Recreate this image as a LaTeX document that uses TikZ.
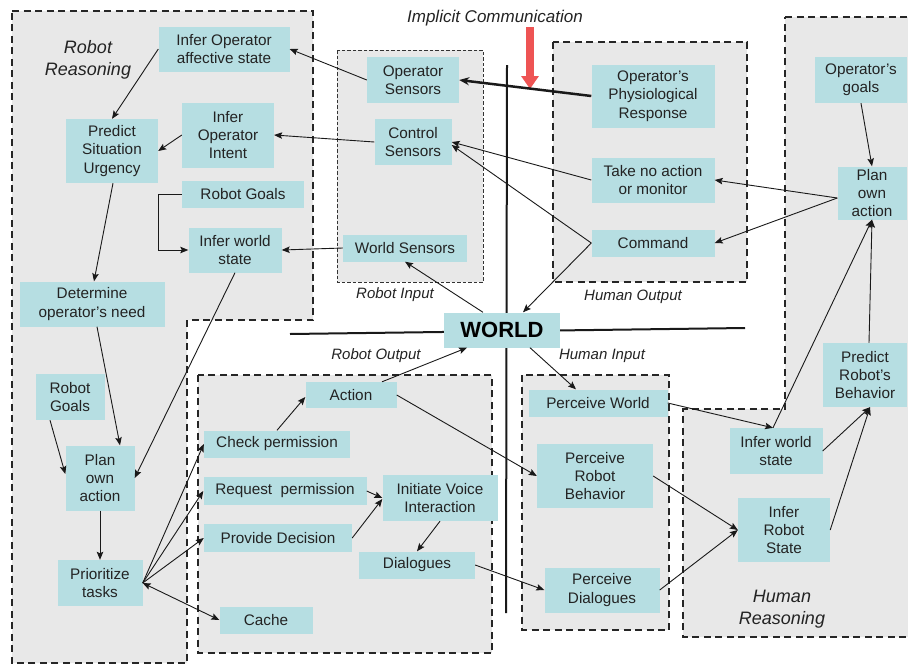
\documentclass[tikz,border=0pt]{standalone}
\usepackage{fontspec}
\setmainfont{Liberation Sans}
\usetikzlibrary{arrows.meta}
\definecolor{nodefill}{RGB}{182,222,226}
\definecolor{regfill}{RGB}{232,232,232}
\definecolor{txt}{RGB}{35,35,35}
\definecolor{redarr}{RGB}{238,84,84}
\begin{document}
\begin{tikzpicture}[x=1pt,y=-1pt,
 box/.style={fill=nodefill, text=txt, align=center, inner sep=0pt, font=\fontsize{15.3}{18.3}\selectfont},
 region/.style={fill=regfill, draw=black!85, line width=1.6pt, dash pattern=on 7pt off 4.5pt},
 fineregion/.style={fill=regfill, draw=black!80, line width=0.9pt, dash pattern=on 3.5pt off 2pt},
 arr/.style={draw=black!90, line width=0.9pt, -{Stealth[length=8pt,width=6.5pt,inset=1.5pt]}},
 dblarr/.style={draw=black!90, line width=0.9pt, {Stealth[length=8pt,width=6.5pt,inset=1.5pt]}-{Stealth[length=8pt,width=6.5pt,inset=1.5pt]}},
 lab/.style={text=txt, font=\fontsize{15}{18}\selectfont\itshape, inner sep=0pt},
 biglab/.style={text=txt, font=\fontsize{18}{21.5}\selectfont\itshape, align=center, inner sep=0pt},
]
\useasboundingbox (0,0) rectangle (908,667);
% regions
\path[region] (12,11) -- (313,11) -- (313,320) -- (187,320) -- (187,663) -- (12,663) -- cycle;
\path[region] (785,17) -- (915,17) -- (915,637) -- (683,637) -- (683,409) -- (785,409) -- cycle;
\path[fineregion] (337,50) rectangle (483,282);
\path[region] (553,42) rectangle (747,282);
\path[region] (198,375) rectangle (492,653);
\path[region] (522,375) rectangle (669,630);
% axes
\coordinate (vtop) at (507,65);
\coordinate (vbot) at (506,613);
\coordinate (hl) at (290,334);
\coordinate (hr) at (745,328);
\draw[line width=2pt, black!90] (vtop) -- (vbot);
\draw[line width=2pt, black!90] (hl) -- (hr);
% labels
\node[biglab] (rrlab) at (88,60) {Robot\\Reasoning};
\node[biglab] (hrlab) at (782,609) {Human\\Reasoning};
\node[lab] (rilab) at (395,295) {Robot Input};
\node[lab] (holab) at (633,297) {Human Output};
\node[lab] (rolab) at (376,356) {Robot Output};
\node[lab] (hilab) at (602,356) {Human Input};
\node[lab, font=\fontsize{17}{20}\selectfont\itshape] (iclab) at (495,18) {Implicit Communication};
% nodes
\node[box, font=\fontsize{22}{26}\selectfont\bfseries, text=black, minimum width=116, minimum height=35] (world) at (502,330) {WORLD};
\node[box, minimum width=131, minimum height=45] (affect) at (224,49) {Infer Operator\\affective state};
\node[box, minimum width=92, minimum height=64] (urgency) at (112,151) {Predict\\Situation\\Urgency};
\node[box, minimum width=92, minimum height=65] (intent) at (228,135) {Infer\\Operator\\Intent};
\node[box, minimum width=122, minimum height=27] (rgoals) at (243,194) {Robot Goals};
\node[box, minimum width=93, minimum height=45] (inferwL) at (235,250) {Infer world\\state};
\node[box, minimum width=145, minimum height=45] (determine) at (92,304) {Determine\\operator's need};
\node[box, minimum width=69, minimum height=46] (rgoalsL) at (70,397) {Robot\\Goals};
\node[box, minimum width=69, minimum height=65] (planL) at (100,478) {Plan\\own\\action};
\node[box, minimum width=85, minimum height=46] (prio) at (100,583) {Prioritize\\tasks};
\node[box, minimum width=146, minimum height=27] (check) at (277,444) {Check permission};
\node[box, minimum width=163, minimum height=28] (request) at (285,491) {Request\ \ permission};
\node[box, minimum width=148, minimum height=28] (provide) at (278,538) {Provide Decision};
\node[box, minimum width=93, minimum height=27] (cache) at (266,620) {Cache};
\node[box, minimum width=91, minimum height=26] (action) at (351,395) {Action};
\node[box, minimum width=115, minimum height=46] (initiate) at (440,498) {Initiate Voice\\Interaction};
\node[box, minimum width=116, minimum height=27] (dialogues) at (417,565) {Dialogues};
\node[box, minimum width=139, minimum height=27] (pworld) at (598,403) {Perceive World};
\node[box, minimum width=116, minimum height=64] (pbehav) at (595,476) {Perceive\\Robot\\Behavior};
\node[box, minimum width=115, minimum height=45] (pdial) at (602,590) {Perceive\\Dialogues};
\node[box, minimum width=93, minimum height=46] (inferwR) at (776,451) {Infer world\\state};
\node[box, minimum width=92, minimum height=64] (irs) at (784,530) {Infer\\Robot\\State};
\node[box, minimum width=84, minimum height=64] (predict) at (865,375) {Predict\\Robot's\\Behavior};
\node[box, minimum width=92, minimum height=46] (opgoals) at (861,80) {Operator's\\goals};
\node[box, minimum width=69, minimum height=53] (planR) at (872,193) {Plan\\own\\action};
\node[box, minimum width=123, minimum height=45] (takeno) at (653,180) {Take no action\\or monitor};
\node[box, minimum width=123, minimum height=27] (command) at (653,243) {Command};
\node[box, minimum width=123, minimum height=63] (physio) at (653,96) {Operator's\\Physiological\\Response};
\node[box, minimum width=92, minimum height=46] (opsens) at (413,80) {Operator\\Sensors};
\node[box, minimum width=77, minimum height=46] (ctrlsens) at (413,142) {Control\\Sensors};
\node[box, minimum width=124, minimum height=27] (wsens) at (405,248) {World Sensors};
% red arrow
\coordinate (ic1) at (530,27);
\coordinate (ic2) at (530,89);
\draw[redarr, line width=8pt, -{Triangle[length=13pt,width=17pt]}] (ic1) -- (ic2);
% connectors
\draw[arr] (opsens.west) -- (affect.east);
\draw[draw=black!90, line width=2.5pt, -{Stealth[length=10pt,width=8pt]}] (physio.west) -- (opsens.east);
\draw[arr] (ctrlsens.west) -- (intent.east);
\draw[arr] (takeno.west) -- (ctrlsens.east);
\draw[arr] (command.west) -- ([yshift=-3pt]ctrlsens.east);
\draw[arr] (command.west) -- ([xshift=21pt]world.north);
\draw[arr] ([xshift=-19pt]world.north) -- (wsens.south);
\draw[arr] (wsens.west) -- (inferwL.east);
\draw[arr] (rgoals.west) -- ++(-23,0) |- (inferwL.west);
\draw[arr] (affect.west) -- (urgency.north);
\draw[arr] (intent.west) -- (urgency.east);
\draw[arr] ([xshift=1pt]urgency.south) -- ([xshift=2pt]determine.north);
\draw[arr] ([xshift=5pt]determine.south) -- ([xshift=20pt]planL.north);
\draw[arr] (inferwL.south) -- (planL.east);
\draw[arr] ([xshift=-20pt]rgoalsL.south) -- ([yshift=4pt]planL.west);
\draw[arr] (planL.south) -- (prio.north);
\draw[arr] (prio.east) -- (check.west);
\draw[arr] (prio.east) -- (request.west);
\draw[arr] (prio.east) -- (provide.west);
\draw[dblarr] (prio.east) -- (cache.west);
\draw[arr] (check.north) -- ([yshift=-2pt]action.west);
\draw[arr] (request.east) -- (initiate.west);
\draw[arr] (provide.east) -- ([yshift=-1pt]initiate.west);
\draw[arr] (initiate.south) -- (dialogues.north);
\draw[arr] (dialogues.east) -- (pdial.west);
\draw[arr] ([xshift=31pt]action.north) -- ([xshift=-35pt]world.south);
\draw[arr] (action.east) -- (pbehav.west);
\draw[arr] ([xshift=28pt]world.south) -- ([xshift=-22pt]pworld.north);
\draw[arr] (pworld.east) -- ([xshift=-3pt]inferwR.north);
\draw[arr] (pbehav.east) -- (irs.west);
\draw[arr] (pdial.east) -- (irs.west);
\draw[arr] ([xshift=-3pt]inferwR.north) -- (planR.south);
\draw[arr] (inferwR.east) -- ([xshift=5pt]predict.south);
\draw[arr] (irs.east) -- ([xshift=5pt]predict.south);
\draw[arr] ([xshift=4pt]predict.north) -- (planR.south);
\draw[arr] (opgoals.south) -- (planR.north);
\draw[arr] ([yshift=-5pt]planR.west) -- (takeno.east);
\draw[arr] ([yshift=-5pt]planR.west) -- (command.east);
\end{tikzpicture}
\end{document}
